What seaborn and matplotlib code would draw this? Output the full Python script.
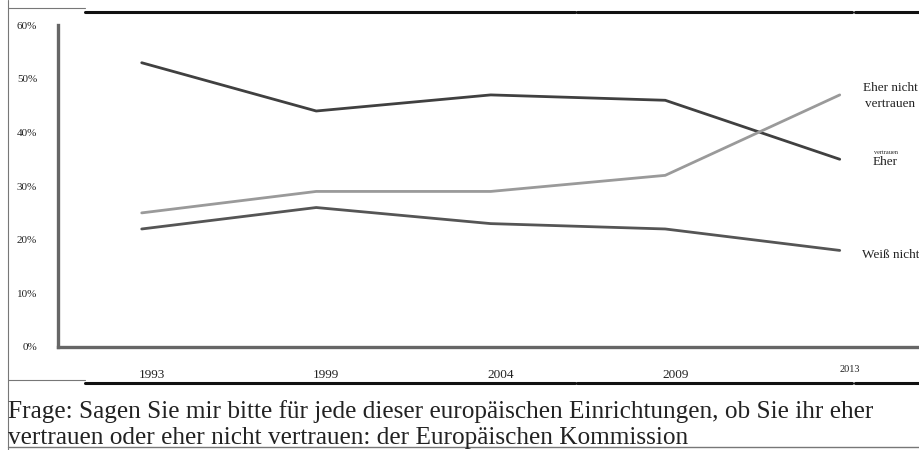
import numpy as np
import pandas as pd
import matplotlib
matplotlib.use("Agg")
import matplotlib.pyplot as plt
import matplotlib.transforms as mtransforms
import seaborn as sns

# ── DATA ─────────────────────────────────────────────────────────
years = ["1993", "1999", "2004", "2009", "2013"]
eher_vertrauen = [53, 44, 47, 46, 35]
eher_nicht_vertrauen = [25, 29, 29, 32, 47]
weiss_nicht = [22, 26, 23, 22, 18]
y_ticks = [0, 10, 20, 30, 40, 50, 60]

df = pd.DataFrame({
    "Jahr": years * 3,
    "Anteil": eher_vertrauen + eher_nicht_vertrauen + weiss_nicht,
    "Antwort": ["Eher vertrauen"] * 5 + ["Eher nicht vertrauen"] * 5 + ["Weiß nicht"] * 5,
})
df["pos"] = df["Jahr"].map({y: i for i, y in enumerate(years)})

sns.set_theme(style="white")
plt.rcParams["font.family"] = ["Liberation Serif", "DejaVu Serif"]

fig = plt.figure(figsize=(9.2, 4.5), dpi=100)
ax = fig.add_axes([0.063, 0.229, 0.937, 0.715])

palette = {"Eher vertrauen": "#404040", "Eher nicht vertrauen": "#9a9a9a", "Weiß nicht": "#555555"}
sns.lineplot(data=df, x="pos", y="Anteil", hue="Antwort", palette=palette,
             linewidth=2.0, legend=False, ax=ax)

ax.set_xlim(-0.48, 4.46)
ax.set_ylim(0, 60)
ax.set_xlabel(""); ax.set_ylabel("")

# spines
for s in ["top", "right"]:
    ax.spines[s].set_visible(False)
for s in ["left", "bottom"]:
    ax.spines[s].set_color("#666666")
    ax.spines[s].set_linewidth(2.4)

# y ticks
ax.set_yticks(y_ticks)
ax.set_yticklabels([f"{v}%" for v in y_ticks], fontsize=8, color="#222222")
ax.tick_params(axis="y", length=0, pad=15)

# x ticks, shifted a bit to the right
ax.set_xticks(range(len(years)))
ax.set_xticklabels(years, fontsize=9.5, color="#222222")
ax.tick_params(axis="x", length=0, pad=16)
shift = mtransforms.ScaledTranslation(10 / 100, 0, fig.dpi_scale_trans)
for lab in ax.get_xticklabels():
    lab.set_transform(lab.get_transform() + shift)
last = ax.get_xticklabels()[-1]
last.set_fontsize(7.5)
last.set_transform(last.get_transform() + mtransforms.ScaledTranslation(0, 4 / 100, fig.dpi_scale_trans))

# end labels
fig.text(890 / 920, 1 - 96 / 450, "Eher nicht\nvertrauen", fontsize=9.5, ha="center", va="center",
         linespacing=1.45, color="#222222")
fig.text(886 / 920, 1 - 152 / 450, "vertrauen", fontsize=4.5, ha="center", va="center", color="#222222")
fig.text(885 / 920, 1 - 162 / 450, "Eher", fontsize=9.5, ha="center", va="center", color="#222222")
fig.text(862 / 920, 1 - 255 / 450, "Weiß nicht", fontsize=9.5, ha="left", va="center", color="#222222")

# caption
fig.text(8 / 920, 1 - 412 / 450, "Frage: Sagen Sie mir bitte für jede dieser europäischen Einrichtungen, ob Sie ihr eher",
         fontsize=18.2, ha="left", va="center", color="#222222")
fig.text(8 / 920, 1 - 449 / 450, "vertrauen oder eher nicht vertrauen: der Europäischen Kommission",
         fontsize=18.2, ha="left", va="bottom", color="#222222")

# page frame lines
def hline(x0, x1, y, lw, color):
    fig.add_artist(plt.Line2D([x0 / 920, x1 / 920], [1 - y / 450, 1 - y / 450], lw=lw, color=color))

hline(8, 85, 8, 0.8, "#777777")
hline(85, 575, 12, 2.2, "#111111")
hline(577, 852, 12, 2.2, "#111111")
hline(855, 920, 12, 2.2, "#111111")
hline(8, 85, 380, 0.8, "#777777")
hline(85, 575, 383, 2.2, "#111111")
hline(577, 852, 383, 2.2, "#111111")
hline(855, 920, 383, 2.2, "#111111")
hline(8, 920, 447, 1.0, "#777777")
fig.add_artist(plt.Line2D([8 / 920, 8 / 920], [0, 1], lw=0.8, color="#777777"))

fig.savefig("out.png", dpi=100)
